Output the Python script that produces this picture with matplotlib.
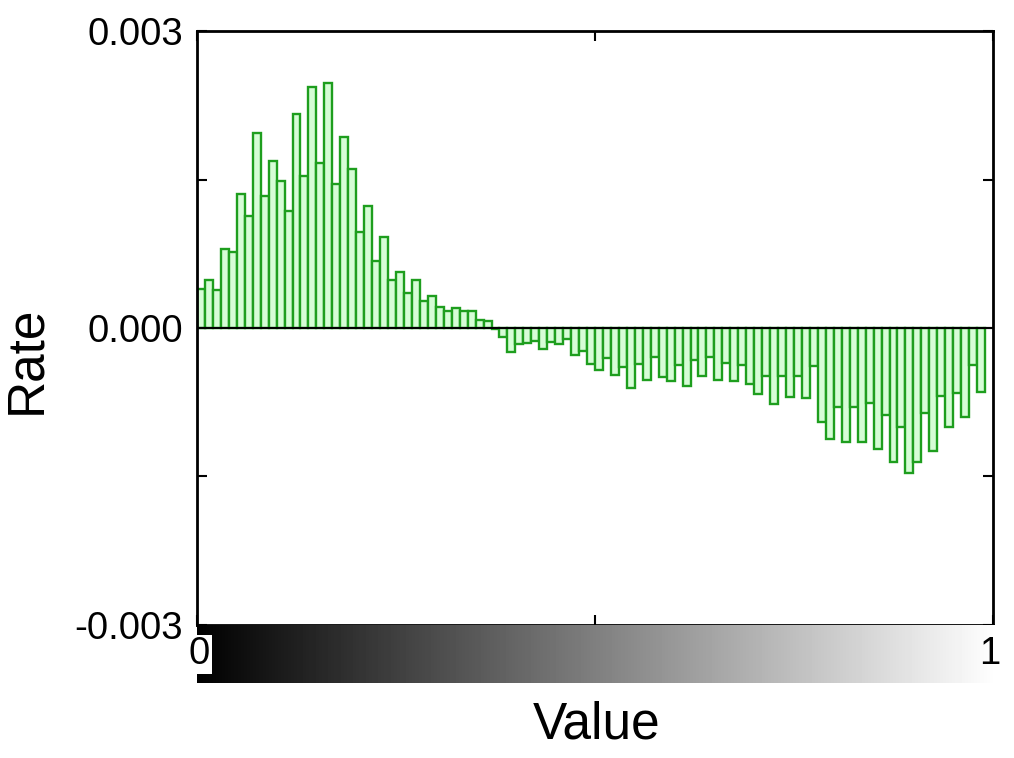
import numpy as np
import matplotlib
matplotlib.use('Agg')
import matplotlib.pyplot as plt

plt.rcParams['font.family'] = ['Liberation Sans', 'DejaVu Sans']

# bar heights, one per 0.01 bin
rates = [
    0.000397, 0.000481, 0.000380, 0.000795, 0.000768, 0.00135, 0.00113, 0.00197, 0.00133, 0.00169,
    0.00149, 0.00118, 0.00216, 0.00154, 0.00243, 0.00167, 0.00248, 0.00146, 0.00193, 0.00161,
    0.000966, 0.00123, 0.000677, 0.000919, 0.000481, 0.000566, 0.000354, 0.000481, 0.000273, 0.000320,
    0.000212, 0.000172, 0.000202, 0.000172, 0.000172, 0.0000842, 0.0000707, -0.0000135, -0.0000943, -0.000242,
    -0.000162, -0.000152, -0.000135, -0.000215, -0.000141, -0.000165, -0.000114, -0.000276, -0.000229, -0.000360,
    -0.000428, -0.000303, -0.000478, -0.000394, -0.000606, -0.000367, -0.000529, -0.000293, -0.000495, -0.000539,
    -0.000377, -0.000589, -0.000320, -0.000488, -0.000293, -0.000529, -0.000354, -0.000540, -0.000377, -0.000569,
    -0.000670, -0.000485, -0.000771, -0.000485, -0.000697, -0.000485, -0.000707, -0.000384, -0.000950, -0.001125,
    -0.000798, -0.001150, -0.000798, -0.001150, -0.000758, -0.001226, -0.000875, -0.001354, -0.001003, -0.001461,
    -0.001354, -0.000859, -0.001246, -0.000687, -0.001003, -0.000657, -0.000899, -0.000377, -0.000646,
]
bin_width = 0.01
bin_left = np.arange(len(rates)) * bin_width

yticks = [-0.003, -0.0015, 0.0, 0.0015, 0.003]
ytick_labels = ['-0.003', '', '0.000', '', '0.003']
xticks = [0, 0.5, 1]

fig = plt.figure(figsize=(10.14, 7.58), dpi=100)
ax = fig.add_axes([0.1943, 0.1755, 0.7850, 0.7835])

ax.bar(bin_left, rates, width=bin_width, align='edge',
       color='#d6fdd6', edgecolor='#1e9e1e', linewidth=1.7)
ax.axhline(0, color='black', linewidth=1.5)

ax.set_xlim(0, 1)
ax.set_ylim(-0.003, 0.003)
ax.set_xticks(xticks)
ax.set_xticklabels([])
ax.set_yticks(yticks)
ax.set_yticklabels(ytick_labels, fontsize=27.5)
ax.tick_params(direction='in', length=7, width=1.5, top=True, right=True, pad=10)
for s in ax.spines.values():
    s.set_linewidth(2)

# grey scale strip under the axes
cax = fig.add_axes([0.1943, 0.099, 0.787, 0.076])
grad = np.linspace(0, 1, 256).reshape(1, -1)
cax.imshow(grad, cmap='gray', aspect='auto', extent=[0, 1, 0, 1])
cax.set_axis_off()
cax.text(0.003, 0.5, '0', fontsize=27.5, ha='center', va='center',
         bbox=dict(facecolor='white', edgecolor='none', pad=1))
cax.text(0.993, 0.5, '1', fontsize=27.5, ha='center', va='center')

fig.text(0.588, 0.044, 'Value', fontsize=37, ha='center', va='center')
fig.text(0.026, 0.525, 'Rate', fontsize=37, ha='center', va='center', rotation=90)

fig.savefig('out.png', dpi=100)
